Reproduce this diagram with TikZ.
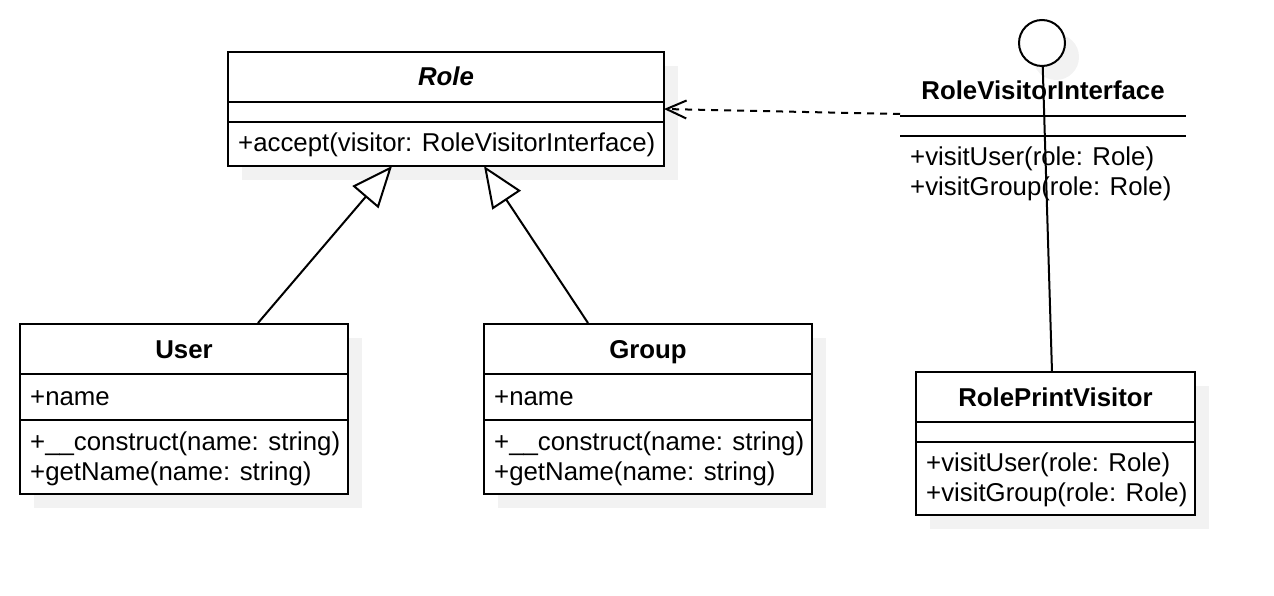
\documentclass[tikz,border=0pt]{standalone}
\usepackage{fontspec}
\setmainfont{Liberation Sans}
\usetikzlibrary{arrows.meta,shadows}
\begin{document}
\begin{tikzpicture}[x=1pt,y=-1pt,
  font=\fontsize{25.8}{30}\selectfont,
  umlbox/.style={draw=black, line width=2pt, fill=white, rectangle, inner sep=0pt, outer sep=0pt, anchor=north west,
    general shadow={fill=black!5, shadow xshift=14pt, shadow yshift=-14pt}},
  divider/.style={line width=2pt},
  txt/.style={anchor=base west, inner sep=0pt},
  ttl/.style={anchor=base, inner sep=0pt, font=\fontsize{25.8}{30}\selectfont\bfseries},
  inh/.style={line width=2pt, -{Triangle[open, length=41pt, width=34pt, fill=white]}},
  dep/.style={line width=2pt, dash pattern=on 7pt off 6pt, -{Straight Barb[length=20pt,width=18pt]}},
  link/.style={line width=2pt}
]
\useasboundingbox (0,0) rectangle (1274,596);

% Role
\node[umlbox, minimum width=436pt, minimum height=114pt] (role) at (228,52) {};
\draw[divider] (role.west |- 0,102) -- (role.east |- 0,102);
\draw[divider] (role.west |- 0,122) -- (role.east |- 0,122);
\node[ttl] (roleT) at (446,86) {\textit{Role}};
\node[txt] (roleM) at (238,152) {+accept(visitor: RoleVisitorInterface)};

% User
\node[umlbox, minimum width=328pt, minimum height=170pt] (user) at (20,324) {};
\draw[divider] (user.west |- 0,374) -- (user.east |- 0,374);
\draw[divider] (user.west |- 0,420) -- (user.east |- 0,420);
\node[ttl] (userT) at (184,358) {User};
\node[txt] (userA) at (30,405) {+name};
\node[txt] (userM1) at (30,450) {+\_\_construct(name: string)};
\node[txt] (userM2) at (30,480) {+getName(name: string)};

% Group
\node[umlbox, minimum width=328pt, minimum height=170pt] (group) at (484,324) {};
\draw[divider] (group.west |- 0,374) -- (group.east |- 0,374);
\draw[divider] (group.west |- 0,420) -- (group.east |- 0,420);
\node[ttl] (groupT) at (648,358) {Group};
\node[txt] (groupA) at (494,405) {+name};
\node[txt] (groupM1) at (494,450) {+\_\_construct(name: string)};
\node[txt] (groupM2) at (494,480) {+getName(name: string)};

% RolePrintVisitor
\node[umlbox, minimum width=279pt, minimum height=143pt] (rpv) at (916,372) {};
\draw[divider] (rpv.west |- 0,422) -- (rpv.east |- 0,422);
\draw[divider] (rpv.west |- 0,442) -- (rpv.east |- 0,442);
\node[ttl] (rpvT) at (1055.5,406) {RolePrintVisitor};
\node[txt] (rpvM1) at (926,471) {+visitUser(role: Role)};
\node[txt] (rpvM2) at (926,501) {+visitGroup(role: Role)};

% RoleVisitorInterface (lollipop)
\node[anchor=north west, inner sep=0pt, outer sep=0pt, minimum width=286pt, minimum height=124pt] (rvi) at (900,80) {};
\node[ttl] (rviT) at (1043,100) {RoleVisitorInterface};
\draw[divider] (rvi.west |- 0,116) -- (rvi.east |- 0,116);
\draw[divider] (rvi.west |- 0,136) -- (rvi.east |- 0,136);
\node[txt] (rviM1) at (910,166) {+visitUser(role: Role)};
\node[txt] (rviM2) at (910,196) {+visitGroup(role: Role)};
\node[circle, draw=black, line width=2pt, fill=white, minimum size=46pt, inner sep=0pt,
  general shadow={fill=black!5, shadow xshift=14pt, shadow yshift=-14pt}] (lol) at (1042,43) {};

% connector end points
\coordinate (uTop) at (258,323);
\coordinate (gTop) at (588,323);
\coordinate (roleB1) at (392,166);
\coordinate (roleB2) at (484,166);
\coordinate (rviL) at (900,114);
\coordinate (rpvTop) at (1052,372);

% connectors
\draw[inh] (uTop) -- (roleB1);
\draw[inh] (gTop) -- (roleB2);
\draw[dep] (rviL) -- (role.east);
\draw[link] (lol) -- (rpvTop);
\end{tikzpicture}
\end{document}
